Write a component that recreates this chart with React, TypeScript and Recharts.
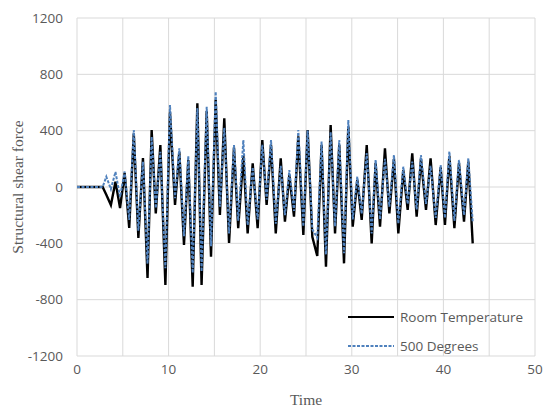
import React from 'react';
import { LineChart, Line, XAxis, YAxis, CartesianGrid, Legend } from 'recharts';

const times = [
  0, 2.8, 3.2, 3.7, 4.2, 4.7, 5.2, 5.7, 6.2, 6.7, 7.2, 7.7, 8.15, 8.6, 9.1, 9.65,
  10.15, 10.7, 11.17, 11.68, 12.15, 12.63, 13.14, 13.6, 14.16, 14.63, 15.14, 15.6,
  16.08, 16.6, 17.14, 17.6, 18.16, 18.63, 19.18, 19.72, 20.23, 20.7, 21.18, 21.7,
  22.24, 22.7, 23.18, 23.69, 24.16, 24.71, 25.18, 25.69, 26.23, 26.7, 27.18, 27.69,
  28.17, 28.63, 29.15, 29.62, 30.1, 30.6, 31.08, 31.63, 32.17, 32.6, 33.08, 33.62,
  34.1, 34.6, 35.08, 35.62, 36.1, 36.6, 37.08, 37.55, 38.1, 38.6, 39.16, 39.7,
  40.17, 40.65, 41.2, 41.7, 42.25, 42.72, 43.2,
];

const roomTemperature = [
  0, 0, -55, -128, 38, -150, 100, -290, 380, -362, 206, -646, 405, -188, 298, -696,
  530, -128, 250, -412, 192, -708, 594, -696, 540, -495, 620, -199,
  488, -398, 280, -293, 220, -329, 168, -293, 334, -128, 300, -329,
  204, -246, 85, -211, 360, -341, 405, -353, -490, 300, -566, 440,
  -329, 300, -542, 430, -282, 50, -234, 298, -400, 170, -282, 275,
  -187, 200, -329, 120, -163, 239, -211, 200, -163, 204, -270, 140,
  -270, 220, -293, 170, -246, 180, -400,
];

const degrees500 = [
  0, 0, 73, -15, 107, -70, 110, -234, 405, -310, 180, -545, 357, -150, 250, -577,
  582, -80, 275, -350, 220, -610, 560, -600, 570, -420, 677, -140,
  420, -330, 298, -240, 334, -270, 140, -230, 300, -90, 334, -260,
  150, -200, 120, -170, 405, -280, 400, -300, -360, 322, -480, 390,
  -280, 334, -470, 476, -230, 73, -190, 240, -330, 192, -230, 200,
  -140, 227, -260, 144, -120, 180, -160, 227, -120, 150, -220, 156,
  -220, 251, -240, 192, -200, 204, -250,
];

const seriesNames = ['Room Temperature', '500 Degrees'];
const xTicks = [0, 10, 20, 30, 40, 50];
const xGrid = [0, 5, 10, 15, 20, 25, 30, 35, 40, 45, 50];
const yTicks = [-1200, -800, -400, 0, 400, 800, 1200];

const data = times.map((t, i) => ({ t, room: roomTemperature[i], deg: degrees500[i] }));

const BLACK = '#000000';
const BLUE = '#4f81bd';
const GRID = '#d9d9d9';
const TEXT = '#595959';
const SANS = '"Open Sans", "Liberation Sans", sans-serif';
const SERIF = '"Liberation Serif", "DejaVu Serif", serif';

const LegendBox = () => (
  <div style={{ fontFamily: SANS, fontSize: 13.5, color: TEXT }}>
    {seriesNames.map((name, i) => (
      <div key={name} style={{ display: 'flex', alignItems: 'center', height: 29 }}>
        <svg width={46} height={10}>
          <line
            x1={0}
            x2={46}
            y1={5}
            y2={5}
            stroke={i === 0 ? BLACK : BLUE}
            strokeWidth={i === 0 ? 2.2 : 2}
            strokeDasharray={i === 0 ? undefined : '3 1.5'}
          />
        </svg>
        <span style={{ marginLeft: 6, whiteSpace: 'nowrap' }}>{name}</span>
      </div>
    ))}
  </div>
);

export default function App() {
  return (
    <div style={{ position: 'fixed', left: 0, top: 0, width: 543, height: 407, background: '#fff' }}>
      <LineChart
        width={543}
        height={407}
        data={data}
        margin={{ top: 18, right: 8, bottom: 0, left: 8 }}
      >
        <CartesianGrid stroke={GRID} strokeWidth={1} verticalValues={xGrid} />
        <XAxis
          dataKey="t"
          type="number"
          domain={[0, 50]}
          ticks={xTicks}
          interval={0}
          axisLine={false}
          tickLine={false}
          height={51}
          tick={{ fill: TEXT, fontSize: 13.5, fontFamily: SANS }}
          label={{
            value: 'Time',
            position: 'insideBottom',
            offset: 2,
            style: { fill: TEXT, fontSize: 15.5, fontFamily: SERIF },
          }}
        />
        <YAxis
          type="number"
          domain={[-1200, 1200]}
          ticks={yTicks}
          interval={0}
          axisLine={false}
          tickLine={false}
          width={69}
          tickMargin={8}
          tick={{ fill: TEXT, fontSize: 13.5, fontFamily: SANS }}
          label={{
            value: 'Structural shear force',
            angle: -90,
            position: 'center',
            dx: -25,
            style: { fill: TEXT, fontSize: 15.5, fontFamily: SERIF, textAnchor: 'middle' },
          }}
        />
        <Legend
          layout="horizontal"
          verticalAlign="middle"
          align="center"
          wrapperStyle={{ left: 348, top: 302, width: 195 }}
          content={() => <LegendBox />}
        />
        <Line
          type="linear"
          dataKey="room"
          name={seriesNames[0]}
          stroke={BLACK}
          strokeWidth={2.4}
          dot={false}
          isAnimationActive={false}
        />
        <Line
          type="linear"
          dataKey="deg"
          name={seriesNames[1]}
          stroke={BLUE}
          strokeWidth={2}
          strokeDasharray="3 1.5"
          dot={false}
          isAnimationActive={false}
        />
      </LineChart>
    </div>
  );
}
